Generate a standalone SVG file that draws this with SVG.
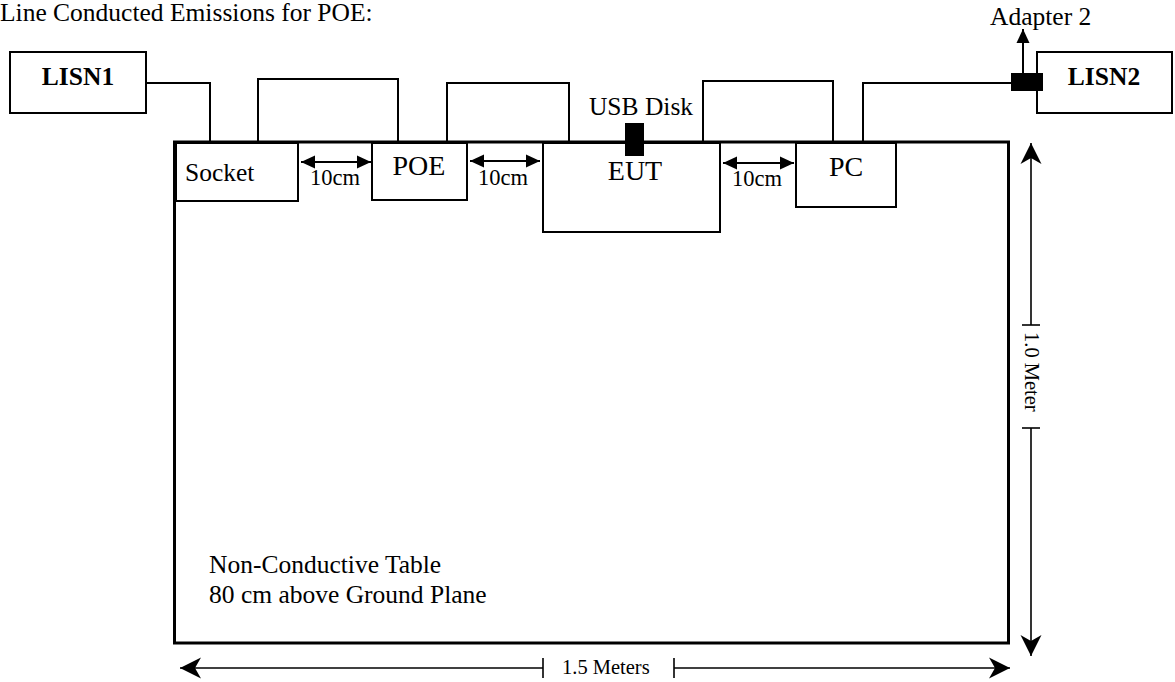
<svg xmlns="http://www.w3.org/2000/svg" width="1175" height="682" viewBox="0 0 1175 682">
<style>
text{font-family:"Liberation Serif","Times New Roman",serif;fill:#000}
.t{font-size:25.5px}
.b{font-size:25.5px;font-weight:bold}
.n{font-size:28px}
.s{font-size:22.5px}
.d{font-size:20.5px}
.box{fill:#fff;stroke:#000;stroke-width:2}
.w{fill:none;stroke:#000;stroke-width:2}
.dim{fill:none;stroke:#000;stroke-width:1.6}
</style>
<defs>
<marker id="st" markerUnits="userSpaceOnUse" markerWidth="24" markerHeight="24" viewBox="-22 -12 24 24" refX="0" refY="0" orient="auto-start-reverse">
<path d="M0,0 L-21,-10.5 L-15,0 L-21,10.5 Z" fill="#000"/>
</marker>
<marker id="tri" markerUnits="userSpaceOnUse" markerWidth="16" markerHeight="14" viewBox="-15 -7 16 14" refX="0" refY="0" orient="auto-start-reverse">
<path d="M0,0 L-14,-6.5 L-14,6.5 Z" fill="#000"/>
</marker>
</defs>
<rect width="1175" height="682" fill="#fff"/>
<text id="title" class="t" x="0" y="21">Line Conducted Emissions for POE:</text>
<g id="table">
<rect x="174.5" y="142" width="834" height="501" fill="#fff" stroke="#000" stroke-width="3"/>
<text class="t" x="209" y="573">Non-Conductive Table</text>
<text class="t" x="209" y="603">80 cm above Ground Plane</text>
</g>
<g id="connectors">
<polyline class="w" points="147,83 210,83 210,142"/>
<polyline class="w" points="258,142 258,79 398,79 398,142"/>
<polyline class="w" points="447,142 447,83 569,83 569,146"/>
<polyline class="w" points="703,142 703,81 833,81 833,142"/>
<polyline class="w" points="863,142 863,83 1012,83"/>
<line class="w" x1="1023" y1="73" x2="1023" y2="29" marker-end="url(#tri)"/>
<line class="w" x1="301" y1="162" x2="371" y2="162" marker-start="url(#tri)" marker-end="url(#tri)"/>
<line class="w" x1="470" y1="161" x2="540" y2="161" marker-start="url(#tri)" marker-end="url(#tri)"/>
<line class="w" x1="723" y1="163" x2="794" y2="163" marker-start="url(#tri)" marker-end="url(#tri)"/>
</g>
<g id="lisn1"><rect class="box" x="10" y="52" width="136" height="61"/><text class="b" x="78" y="85" text-anchor="middle">LISN1</text></g>
<g id="lisn2"><rect class="box" x="1037" y="52" width="135" height="61"/><text class="b" x="1104" y="85" text-anchor="middle">LISN2</text></g>
<g id="adapter2"><rect x="1011" y="73" width="32" height="18" fill="#000"/><text class="t" x="990" y="25">Adapter 2</text></g>
<g id="socket"><rect class="box" x="176" y="143" width="122" height="58"/><text class="t" x="185" y="181">Socket</text></g>
<g id="poe"><rect class="box" x="372" y="143" width="95" height="57"/><text class="n" x="419" y="175" text-anchor="middle">POE</text></g>
<g id="eut"><rect class="box" x="543" y="143" width="177" height="89"/><text class="n" x="635" y="180" text-anchor="middle">EUT</text></g>
<g id="usb"><rect x="625" y="123" width="19" height="33" fill="#000"/><text class="t" x="641" y="115" text-anchor="middle">USB Disk</text></g>
<g id="pc"><rect class="box" x="796" y="143" width="100" height="64"/><text class="n" x="846" y="176" text-anchor="middle">PC</text></g>
<g id="labels">
<text class="s" x="310" y="185">10cm</text>
<text class="s" x="478" y="185">10cm</text>
<text class="s" x="732" y="186">10cm</text>
</g>
<g id="dims">
<line class="dim" x1="180" y1="668" x2="543" y2="668" marker-start="url(#st)"/>
<line class="dim" x1="543" y1="658" x2="543" y2="678" stroke-width="2"/>
<text class="d" x="562" y="674">1.5 Meters</text>
<line class="dim" x1="674" y1="658" x2="674" y2="678" stroke-width="2"/>
<line class="dim" x1="674" y1="668" x2="1010" y2="668" marker-end="url(#st)"/>
<line class="dim" x1="1031" y1="143" x2="1031" y2="325" marker-start="url(#st)"/>
<line class="dim" x1="1022" y1="325" x2="1040" y2="325" stroke-width="2"/>
<text class="d" transform="translate(1025,332) rotate(90)">1.0 Meter</text>
<line class="dim" x1="1022" y1="428" x2="1040" y2="428" stroke-width="2"/>
<line class="dim" x1="1031" y1="428" x2="1031" y2="656" marker-end="url(#st)"/>
</g>
</svg>
